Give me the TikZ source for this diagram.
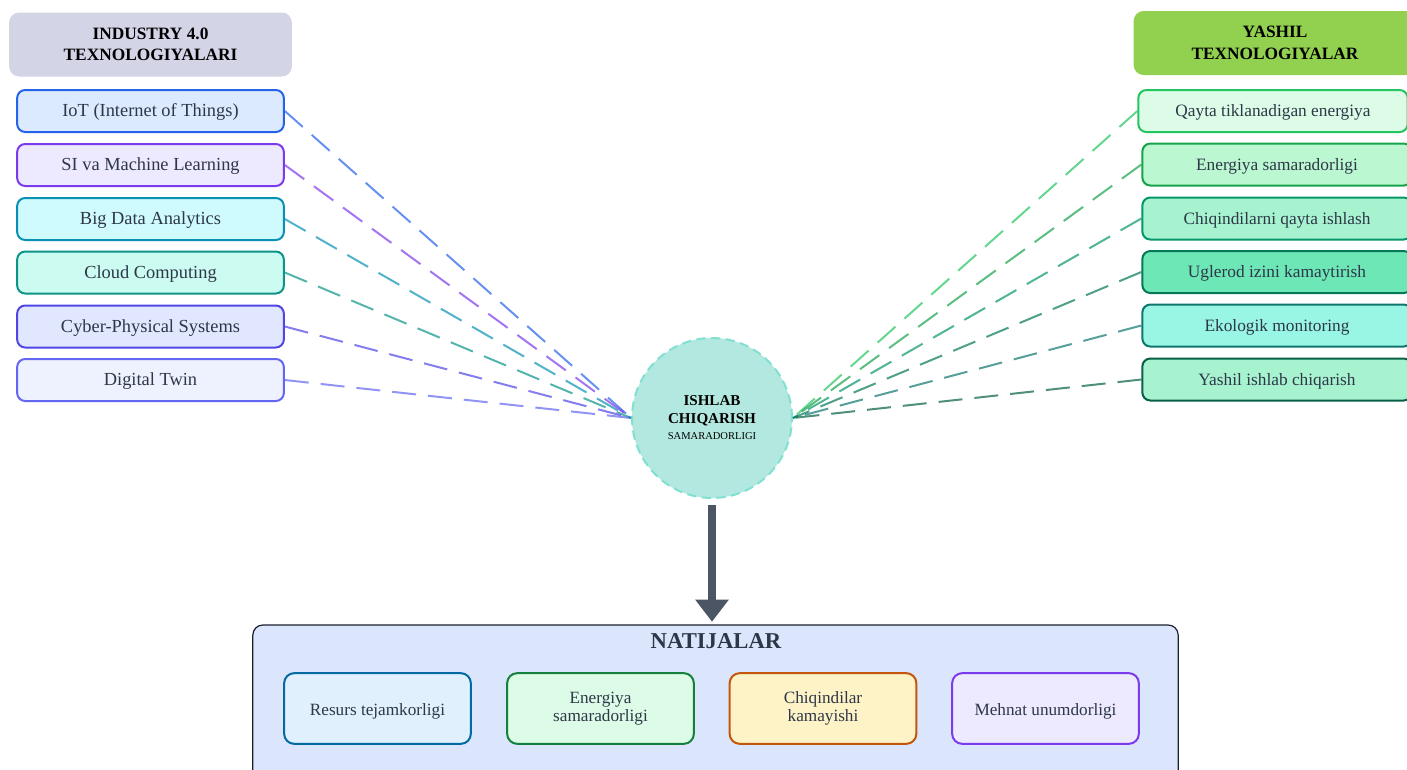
\documentclass[tikz,border=0pt]{standalone}
\usepackage{fontspec}
\setmainfont{Liberation Serif}
\usetikzlibrary{arrows.meta, positioning}

\definecolor{txtgray}{HTML}{2D3748}
\definecolor{hdrgray}{HTML}{D3D4E6}
\definecolor{hdrgreen}{HTML}{92D050}
\definecolor{iotfill}{HTML}{DBEAFE}   \definecolor{iotline}{HTML}{2563EB}
\definecolor{sifill}{HTML}{EDE9FE}    \definecolor{siline}{HTML}{7C3AED}
\definecolor{bigfill}{HTML}{CFFAFE}   \definecolor{bigline}{HTML}{0891B2}
\definecolor{cloudfill}{HTML}{CCFBF1} \definecolor{cloudline}{HTML}{0D9488}
\definecolor{cpsfill}{HTML}{E0E7FF}   \definecolor{cpsline}{HTML}{4F46E5}
\definecolor{twinfill}{HTML}{EEF2FF}  \definecolor{twinline}{HTML}{6366F1}
\definecolor{renfill}{HTML}{DCFCE7}   \definecolor{renline}{HTML}{22C55E}
\definecolor{effill}{HTML}{BBF7D0}    \definecolor{efline}{HTML}{16A34A}
\definecolor{recfill}{HTML}{A7F3D0}   \definecolor{recline}{HTML}{059669}
\definecolor{carbfill}{HTML}{6EE7B7}  \definecolor{carbline}{HTML}{047857}
\definecolor{ecofill}{HTML}{99F6E4}   \definecolor{ecoline}{HTML}{0F766E}
\definecolor{yashfill}{HTML}{A7F3D0}  \definecolor{yashline}{HTML}{065F46}
\definecolor{hubfill}{HTML}{B2E8E0}   \definecolor{hubline}{HTML}{81E0D0}
\definecolor{arrowgray}{HTML}{4B5563}
\definecolor{resfill}{HTML}{DBE6FD}   \definecolor{resline}{HTML}{1A202C}
\definecolor{r1fill}{HTML}{E0F0FD}    \definecolor{r1line}{HTML}{0369A1}
\definecolor{r2fill}{HTML}{DCFCE7}    \definecolor{r2line}{HTML}{15803D}
\definecolor{r3fill}{HTML}{FEF3C7}    \definecolor{r3line}{HTML}{C2570C}
\definecolor{r4fill}{HTML}{EDE9FE}    \definecolor{r4line}{HTML}{7C3AED}

\tikzset{
  header/.style={rounded corners=7.5pt, minimum width=212pt, minimum height=48pt,
    align=center, font=\bfseries\fontsize{13}{16}\selectfont},
  techbox/.style={draw, rounded corners=6pt, line width=1.5pt, minimum width=200pt,
    minimum height=31.5pt, text height=0.9em, text depth=0.06em, text=txtgray,
    font=\fontsize{13.8}{16}\selectfont},
  greenbox/.style={techbox, minimum width=202pt, font=\fontsize{13}{16}\selectfont},
  link/.style={line width=1.5pt, draw opacity=0.7, dash pattern=on 18pt off 9pt},
  resbox/.style={draw, rounded corners=7.5pt, line width=1.5pt, minimum width=140pt,
    minimum height=53pt, align=center, text=txtgray, font=\fontsize{12.9}{13.5}\selectfont},
  oneline/.style={text height=1em, text depth=0.02em}
}

\begin{document}
\begin{tikzpicture}[x=0.75pt, y=-0.75pt]
\useasboundingbox (0,0) rectangle (1407,769);

% headers
      \node[header, fill=hdrgray] (ind) at (150.5,44.5) {INDUSTRY 4.0\\TEXNOLOGIYALARI};
      \node[header, fill=hdrgreen] (yash) at (1275,43) {YASHIL\\TEXNOLOGIYALAR};

% Industry 4.0
      \node[techbox, fill=iotfill, draw=iotline] (iot) at (150.5,111) {IoT (Internet of Things)};
      \node[techbox, fill=sifill, draw=siline] (si) at (150.5,165) {SI va Machine Learning};
      \node[techbox, fill=bigfill, draw=bigline] (big) at (150.5,219) {Big Data Analytics};
      \node[techbox, fill=cloudfill, draw=cloudline] (cloud) at (150.5,272.5) {Cloud Computing};
      \node[techbox, fill=cpsfill, draw=cpsline] (cps) at (150.5,326.5) {Cyber-Physical Systems};
      \node[techbox, fill=twinfill, draw=twinline] (twin) at (150.5,380) {Digital Twin};

% Yashil texnologiyalar
      \node[greenbox, fill=renfill, draw=renline] (ren) at (1273,111) {Qayta tiklanadigan energiya};
      \node[greenbox, fill=effill, draw=efline] (ef) at (1277,164.5) {Energiya samaradorligi};
      \node[greenbox, fill=recfill, draw=recline] (rec) at (1277,218.5) {Chiqindilarni qayta ishlash};
      \node[greenbox, fill=carbfill, draw=carbline] (carb) at (1277,272) {Uglerod izini kamaytirish};
      \node[greenbox, fill=ecofill, draw=ecoline] (eco) at (1277,325.5) {Ekologik monitoring};
      \node[greenbox, fill=yashfill, draw=yashline] (ygreen) at (1277,379.5) {Yashil ishlab chiqarish};

% hub
      \node[circle, fill=hubfill, draw=hubline, line width=1.5pt, dash pattern=on 7pt off 4pt,
        minimum size=120pt, align=center, text=black] (hub) at (712,418)
        {\bfseries\fontsize{11.3}{13}\selectfont ISHLAB\\[1.5pt]\bfseries\fontsize{11.3}{13}\selectfont CHIQARISH\\\fontsize{7.9}{9}\selectfont SAMARADORLIGI};

% links
      \draw[link, iotline] (iot.east) -- (hub.west);
      \draw[link, siline] (si.east) -- (hub.west);
      \draw[link, bigline] (big.east) -- (hub.west);
      \draw[link, cloudline] (cloud.east) -- (hub.west);
      \draw[link, cpsline] (cps.east) -- (hub.west);
      \draw[link, twinline] (twin.east) -- (hub.west);
      \draw[link, renline] (ren.west) -- (hub.east);
      \draw[link, efline] (ef.west) -- (hub.east);
      \draw[link, recline] (rec.west) -- (hub.east);
      \draw[link, carbline] (carb.west) -- (hub.east);
      \draw[link, ecoline] (eco.west) -- (hub.east);
      \draw[link, yashline] (ygreen.west) -- (hub.east);

% Natijalar
      \node[draw=resline, fill=resfill, line width=0.9pt, rounded corners=7.5pt,
        minimum width=694pt, minimum height=120pt] (nat) at (715.5,705) {};
      \node[text=txtgray, font=\bfseries\fontsize{17}{20}\selectfont] (natt) at (716,641) {NATIJALAR};
      \node[resbox, oneline, fill=r1fill, draw=r1line] (r1) at (377.5,708.5) {Resurs tejamkorligi};
      \node[resbox, fill=r2fill, draw=r2line] (r2) at (600.5,708.5) {Energiya\\samaradorligi};
      \node[resbox, fill=r3fill, draw=r3line] (r3) at (823,708.5) {Chiqindilar\\kamayishi};
      \node[resbox, oneline, fill=r4fill, draw=r4line] (r4) at (1045.5,708.5) {Mehnat unumdorligi};

% arrow
      \draw[arrowgray, line width=6pt, shorten <=4.5pt, shorten >=2pt,
        -{Triangle[length=16.5pt, width=24pt]}] (hub.south) -- (hub.south |- nat.north);

\end{tikzpicture}
\end{document}
